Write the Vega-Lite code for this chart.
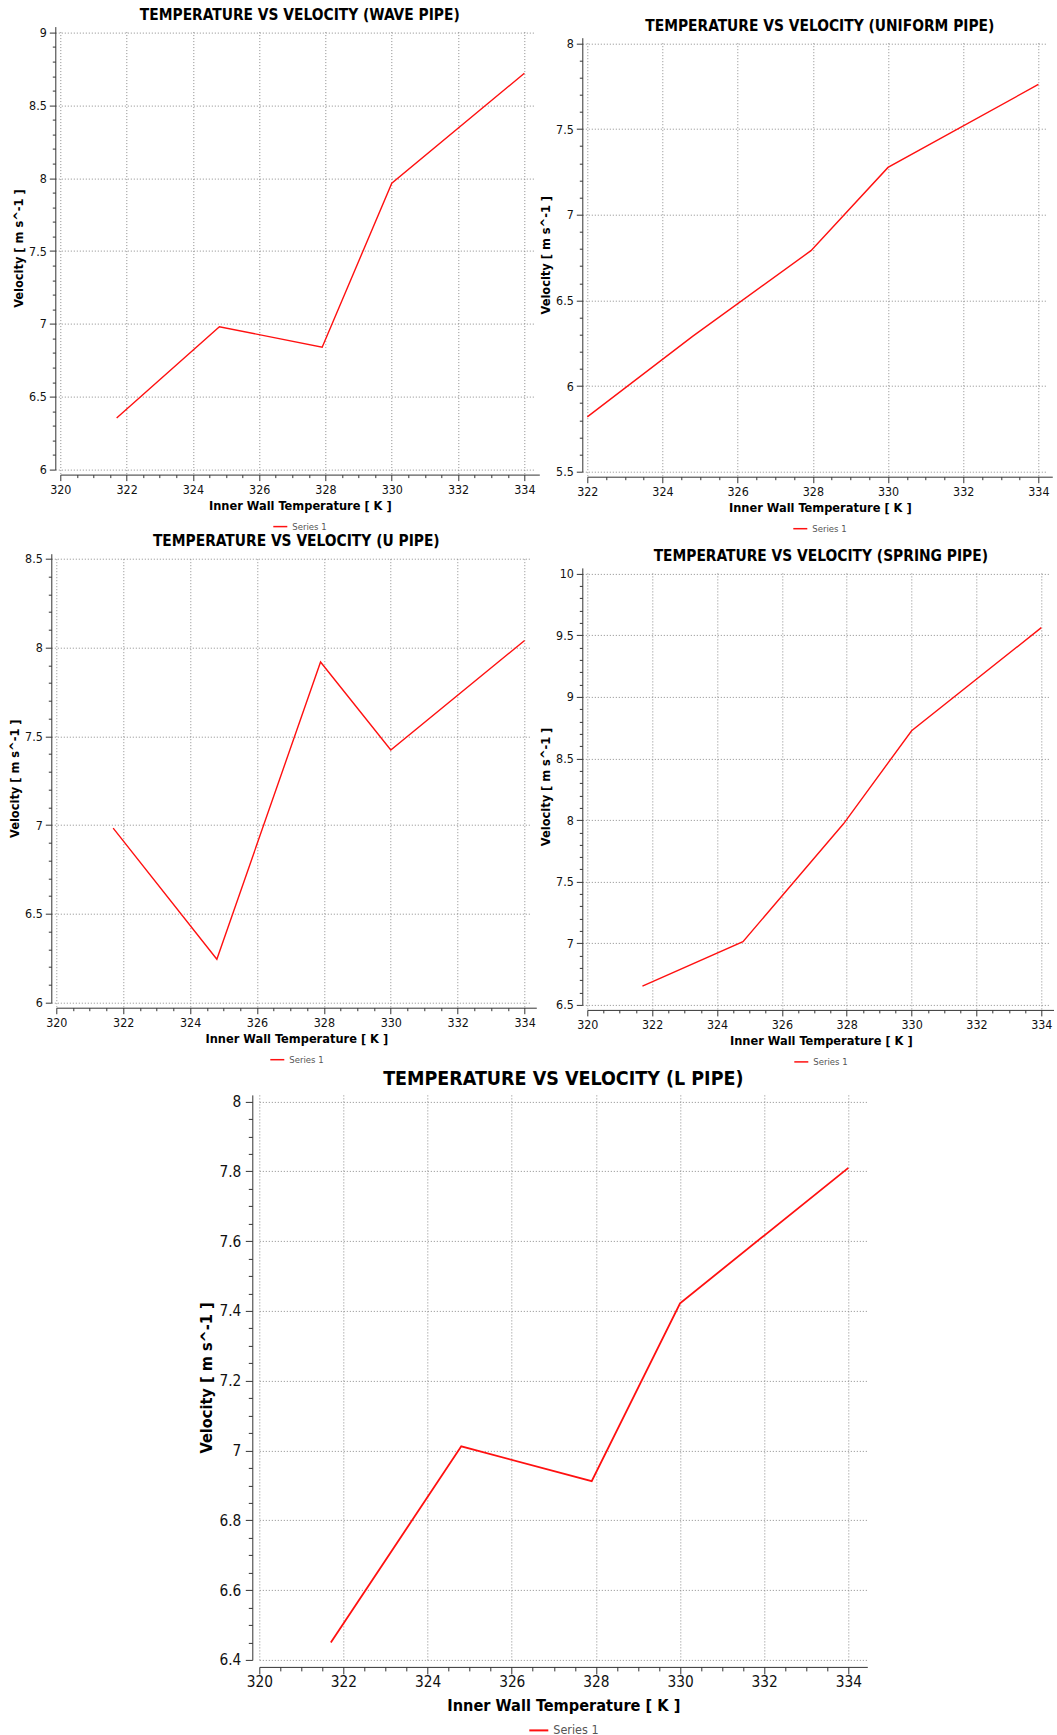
{
  "$schema": "https://vega.github.io/schema/vega-lite/v6.json",
  "padding": {"left": 7.3, "top": 0.5, "right": 0, "bottom": 0},
  "background": "white",
  "datasets": {
    "wave": [
      {"T": 321.7, "V": 6.354},
      {"T": 324.8, "V": 6.98},
      {"T": 327.9, "V": 6.84},
      {"T": 330.0, "V": 7.965},
      {"T": 334.0, "V": 8.72}
    ],
    "uniform": [
      {"T": 322.0, "V": 5.82},
      {"T": 324.8, "V": 6.29},
      {"T": 327.95, "V": 6.79},
      {"T": 330.0, "V": 7.276},
      {"T": 334.0, "V": 7.76}
    ],
    "upipe": [
      {"T": 321.7, "V": 6.983},
      {"T": 324.8, "V": 6.245},
      {"T": 327.9, "V": 7.919},
      {"T": 330.0, "V": 7.423},
      {"T": 334.0, "V": 8.04}
    ],
    "spring": [
      {"T": 321.7, "V": 6.653},
      {"T": 324.8, "V": 7.013},
      {"T": 327.9, "V": 7.97},
      {"T": 330.0, "V": 8.725},
      {"T": 334.0, "V": 9.562}
    ],
    "lpipe": [
      {"T": 321.7, "V": 6.45},
      {"T": 324.8, "V": 7.012},
      {"T": 327.9, "V": 6.912},
      {"T": 330.0, "V": 7.422},
      {"T": 334.0, "V": 7.81}
    ],
    "empty": []
  },
  "vconcat": [
    {
      "hconcat": [
        {
          "vconcat": [
            {"width": 1, "height": 5, "data": {"name": "empty"}, "mark": "point"},
            {
              "hconcat": [
                {"width": 4.4, "height": 1, "data": {"name": "empty"}, "mark": "point"},
                {
                  "width": 479, "height": 443,
                  "title": {"text": "TEMPERATURE VS VELOCITY (WAVE PIPE)"},
                  "data": {"name": "wave"},
                  "mark": {"type": "line", "color": "#ff1010", "strokeWidth": 1.4},
                  "encoding": {
                    "x": {"field": "T", "type": "quantitative", "scale": {"domain": [320, 334.45], "nice": false, "zero": false},
                      "axis": {"title": "Inner Wall Temperature [ K ]", "values": [320,320.5,321,321.5,322,322.5,323,323.5,324,324.5,325,325.5,326,326.5,327,327.5,328,328.5,329,329.5,330,330.5,331,331.5,332,332.5,333,333.5,334],
                        "labelExpr": "datum.value % 2 == 0 ? format(datum.value, '~g') : ''",
                        "tickSize": {"condition": {"test": "datum.value % 2 == 0", "value": 6}, "value": 3},
                        "gridOpacity": {"condition": {"test": "datum.value % 2 == 0", "value": 1}, "value": 0}}},
                    "y": {"field": "V", "type": "quantitative", "scale": {"domain": [6, 9.04], "nice": false, "zero": false},
                      "axis": {"title": "Velocity [ m s^-1 ]", "values": [6,6.1,6.2,6.3,6.4,6.5,6.6,6.7,6.8,6.9,7,7.1,7.2,7.3,7.4,7.5,7.6,7.7,7.8,7.9,8,8.1,8.2,8.3,8.4,8.5,8.6,8.7,8.8,8.9,9],
                        "labelExpr": "abs(datum.value*2 - round(datum.value*2)) < 0.01 ? format(datum.value, '~g') : ''",
                        "tickSize": {"condition": {"test": "abs(datum.value*2 - round(datum.value*2)) < 0.01", "value": 6}, "value": 3},
                        "gridOpacity": {"condition": {"test": "abs(datum.value*2 - round(datum.value*2)) < 0.01", "value": 1}, "value": 0}}},
                    "color": {"datum": "Series 1", "type": "nominal", "scale": {"range": ["#ff1010"]}, "legend": {"title": null}}
                  }
                }
              ],
              "spacing": 0,
              "resolve": {"scale": {"color": "independent"}, "legend": {"color": "independent"}}
            },
            {
              "hconcat": [
                {"width": 1, "height": 1, "data": {"name": "empty"}, "mark": "point"},
                {
                  "width": 480, "height": 449,
                  "title": {"text": "TEMPERATURE VS VELOCITY (U PIPE)"},
                  "data": {"name": "upipe"},
                  "mark": {"type": "line", "color": "#ff1010", "strokeWidth": 1.4},
                  "encoding": {
                    "x": {"field": "T", "type": "quantitative", "scale": {"domain": [320, 334.35], "nice": false, "zero": false},
                      "axis": {"title": "Inner Wall Temperature [ K ]", "values": [320,320.5,321,321.5,322,322.5,323,323.5,324,324.5,325,325.5,326,326.5,327,327.5,328,328.5,329,329.5,330,330.5,331,331.5,332,332.5,333,333.5,334],
                        "labelExpr": "datum.value % 2 == 0 ? format(datum.value, '~g') : ''",
                        "tickSize": {"condition": {"test": "datum.value % 2 == 0", "value": 6}, "value": 3},
                        "gridOpacity": {"condition": {"test": "datum.value % 2 == 0", "value": 1}, "value": 0}}},
                    "y": {"field": "V", "type": "quantitative", "scale": {"domain": [6, 8.529], "nice": false, "zero": false},
                      "axis": {"title": "Velocity [ m s^-1 ]", "values": [6,6.1,6.2,6.3,6.4,6.5,6.6,6.7,6.8,6.9,7,7.1,7.2,7.3,7.4,7.5,7.6,7.7,7.8,7.9,8,8.1,8.2,8.3,8.4,8.5],
                        "labelExpr": "abs(datum.value*2 - round(datum.value*2)) < 0.01 ? format(datum.value, '~g') : ''",
                        "tickSize": {"condition": {"test": "abs(datum.value*2 - round(datum.value*2)) < 0.01", "value": 6}, "value": 3},
                        "gridOpacity": {"condition": {"test": "abs(datum.value*2 - round(datum.value*2)) < 0.01", "value": 1}, "value": 0}}},
                    "color": {"datum": "Series 1", "type": "nominal", "scale": {"range": ["#ff1010"]}, "legend": {"title": null}}
                  }
                }
              ],
              "spacing": 0,
              "resolve": {"scale": {"color": "independent"}, "legend": {"color": "independent"}}
            }
          ],
          "spacing": 2.1,
          "resolve": {"scale": {"color": "independent"}, "legend": {"color": "independent"}}
        },
        {
          "vconcat": [
            {"width": 1, "height": 2.5, "data": {"name": "empty"}, "mark": "point"},
            {
              "width": 465, "height": 434,
              "title": {"text": "TEMPERATURE VS VELOCITY (UNIFORM PIPE)"},
              "data": {"name": "uniform"},
              "mark": {"type": "line", "color": "#ff1010", "strokeWidth": 1.4},
              "encoding": {
                "x": {"field": "T", "type": "quantitative", "scale": {"domain": [322, 334.37], "nice": false, "zero": false},
                  "axis": {"title": "Inner Wall Temperature [ K ]", "values": [322,322.5,323,323.5,324,324.5,325,325.5,326,326.5,327,327.5,328,328.5,329,329.5,330,330.5,331,331.5,332,332.5,333,333.5,334],
                    "labelExpr": "datum.value % 2 == 0 ? format(datum.value, '~g') : ''",
                    "tickSize": {"condition": {"test": "datum.value % 2 == 0", "value": 6}, "value": 3},
                    "gridOpacity": {"condition": {"test": "datum.value % 2 == 0", "value": 1}, "value": 0}}},
                "y": {"field": "V", "type": "quantitative", "scale": {"domain": [5.5, 8.033], "nice": false, "zero": false},
                  "axis": {"title": "Velocity [ m s^-1 ]", "values": [5.5,5.6,5.7,5.8,5.9,6,6.1,6.2,6.3,6.4,6.5,6.6,6.7,6.8,6.9,7,7.1,7.2,7.3,7.4,7.5,7.6,7.7,7.8,7.9,8],
                    "labelExpr": "abs(datum.value*2 - round(datum.value*2)) < 0.01 ? format(datum.value, '~g') : ''",
                    "tickSize": {"condition": {"test": "abs(datum.value*2 - round(datum.value*2)) < 0.01", "value": 6}, "value": 3},
                    "gridOpacity": {"condition": {"test": "abs(datum.value*2 - round(datum.value*2)) < 0.01", "value": 1}, "value": 0}}},
                "color": {"datum": "Series 1", "type": "nominal", "scale": {"range": ["#ff1010"]}, "legend": {"title": null}}
              }
            },
            {
              "width": 467, "height": 437,
              "title": {"text": "TEMPERATURE VS VELOCITY (SPRING PIPE)"},
              "data": {"name": "spring"},
              "mark": {"type": "line", "color": "#ff1010", "strokeWidth": 1.4},
              "encoding": {
                "x": {"field": "T", "type": "quantitative", "scale": {"domain": [320, 334.4], "nice": false, "zero": false},
                  "axis": {"title": "Inner Wall Temperature [ K ]", "values": [320,320.5,321,321.5,322,322.5,323,323.5,324,324.5,325,325.5,326,326.5,327,327.5,328,328.5,329,329.5,330,330.5,331,331.5,332,332.5,333,333.5,334],
                    "labelExpr": "datum.value % 2 == 0 ? format(datum.value, '~g') : ''",
                    "tickSize": {"condition": {"test": "datum.value % 2 == 0", "value": 6}, "value": 3},
                    "gridOpacity": {"condition": {"test": "datum.value % 2 == 0", "value": 1}, "value": 0}}},
                "y": {"field": "V", "type": "quantitative", "scale": {"domain": [6.5, 10.047], "nice": false, "zero": false},
                  "axis": {"title": "Velocity [ m s^-1 ]", "values": [6.5,6.6,6.7,6.8,6.9,7,7.1,7.2,7.3,7.4,7.5,7.6,7.7,7.8,7.9,8,8.1,8.2,8.3,8.4,8.5,8.6,8.7,8.8,8.9,9,9.1,9.2,9.3,9.4,9.5,9.6,9.7,9.8,9.9,10],
                    "labelExpr": "abs(datum.value*2 - round(datum.value*2)) < 0.01 ? format(datum.value, '~g') : ''",
                    "tickSize": {"condition": {"test": "abs(datum.value*2 - round(datum.value*2)) < 0.01", "value": 6}, "value": 3},
                    "gridOpacity": {"condition": {"test": "abs(datum.value*2 - round(datum.value*2)) < 0.01", "value": 1}, "value": 0}}},
                "color": {"datum": "Series 1", "type": "nominal", "scale": {"range": ["#ff1010"]}, "legend": {"title": null}}
              }
            }
          ],
          "spacing": 15.2,
          "resolve": {"scale": {"color": "independent"}, "legend": {"color": "independent"}}
        }
      ],
      "spacing": 0,
      "resolve": {"scale": {"color": "independent"}, "legend": {"color": "independent"}}
    },
    {
      "hconcat": [
        {"width": 190.5, "height": 1, "data": {"name": "empty"}, "mark": "point"},
        {
          "width": 608, "height": 565,
          "title": {"text": "TEMPERATURE VS VELOCITY (L PIPE)", "fontSize": 19.5, "offset": 5},
          "data": {"name": "lpipe"},
          "mark": {"type": "line", "color": "#ff1010", "strokeWidth": 1.8},
          "encoding": {
            "x": {"field": "T", "type": "quantitative", "scale": {"domain": [320, 334.45], "nice": false, "zero": false},
              "axis": {"title": "Inner Wall Temperature [ K ]", "titleFontSize": 16.2, "labelFontSize": 15.3, "offset": 7, "labelPadding": 1, "titlePadding": 7.3,
                "values": [320,320.5,321,321.5,322,322.5,323,323.5,324,324.5,325,325.5,326,326.5,327,327.5,328,328.5,329,329.5,330,330.5,331,331.5,332,332.5,333,333.5,334],
                "labelExpr": "datum.value % 2 == 0 ? format(datum.value, '~g') : ''",
                "tickSize": {"condition": {"test": "datum.value % 2 == 0", "value": 7}, "value": 4},
                "gridOpacity": {"condition": {"test": "datum.value % 2 == 0", "value": 1}, "value": 0}}},
            "y": {"field": "V", "type": "quantitative", "scale": {"domain": [6.4, 8.019], "nice": false, "zero": false},
              "axis": {"title": "Velocity [ m s^-1 ]", "titleFontSize": 16.2, "labelFontSize": 15.3, "offset": 7, "labelPadding": 4.5, "titlePadding": 4,
                "values": [6.4,6.45,6.5,6.55,6.6,6.65,6.7,6.75,6.8,6.85,6.9,6.95,7,7.05,7.1,7.15,7.2,7.25,7.3,7.35,7.4,7.45,7.5,7.55,7.6,7.65,7.7,7.75,7.8,7.85,7.9,7.95,8],
                "labelExpr": "abs(datum.value*5 - round(datum.value*5)) < 0.01 ? format(datum.value, '~g') : ''",
                "tickSize": {"condition": {"test": "abs(datum.value*5 - round(datum.value*5)) < 0.01", "value": 7}, "value": 4},
                "gridOpacity": {"condition": {"test": "abs(datum.value*5 - round(datum.value*5)) < 0.01", "value": 1}, "value": 0}}},
            "color": {"datum": "Series 1", "type": "nominal", "scale": {"range": ["#ff1010"]},
              "legend": {"title": null, "labelFontSize": 12.5, "symbolSize": 361, "symbolStrokeWidth": 2}}
          }
        }
      ],
      "spacing": 0,
      "resolve": {"scale": {"color": "independent"}, "legend": {"color": "independent"}}
    }
  ],
  "spacing": 1.4,
  "resolve": {"scale": {"color": "independent"}, "legend": {"color": "independent"}},
  "config": {
    "view": {"stroke": null},
    "font": "DejaVu Sans Condensed, DejaVu Sans",
    "axis": {
      "domainColor": "#333", "tickColor": "#333", "labelColor": "#111",
      "labelFontSize": 12.4, "titleFontSize": 12.7, "titleFontWeight": "bold", "titleColor": "#000",
      "gridColor": "#8a8a8a", "gridDash": [1, 2], "gridWidth": 1,
      "offset": 5, "labelOverlap": false, "labelFlush": false, "labelPadding": 3, "titlePadding": 3
    },
    "title": {"fontSize": 15.4, "fontWeight": "bold", "color": "#000", "anchor": "middle", "offset": 3},
    "legend": {
      "orient": "bottom", "direction": "horizontal", "symbolType": "stroke", "symbolSize": 196, "symbolStrokeWidth": 1.5,
      "labelFontSize": 9.5, "labelColor": "#555", "offset": 6, "padding": 0,
      "layout": {"bottom": {"anchor": "middle"}}
    }
  }
}
